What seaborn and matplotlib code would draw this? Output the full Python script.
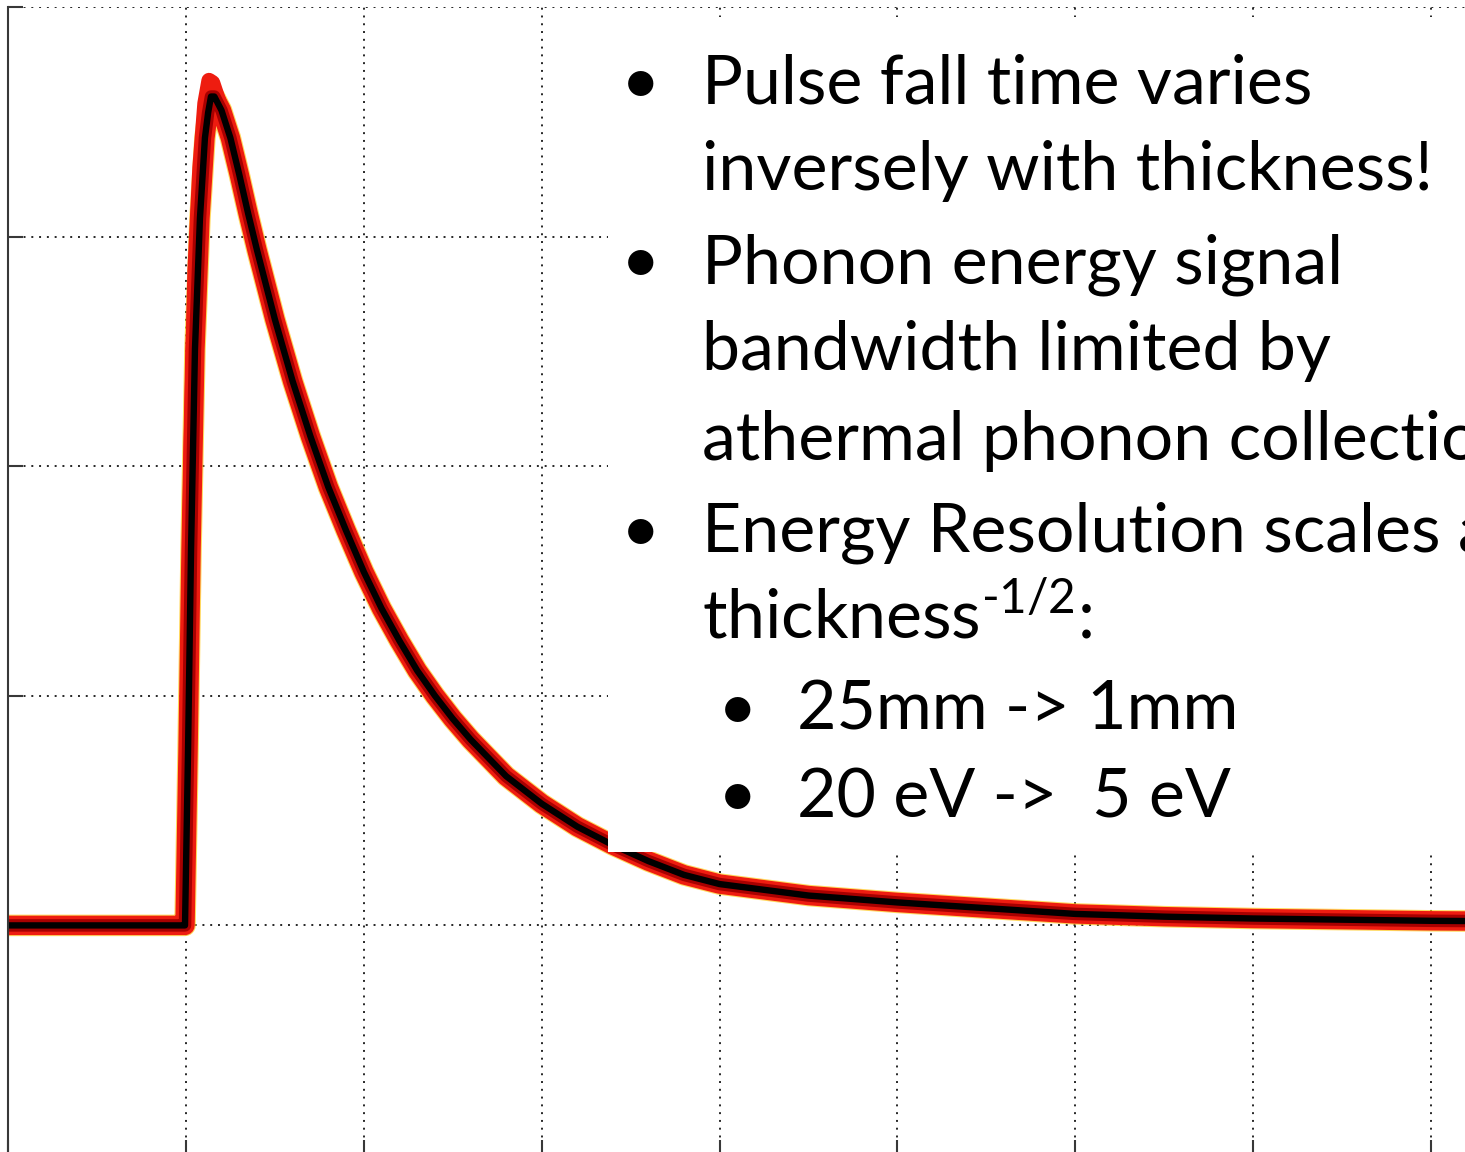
import matplotlib
matplotlib.use("Agg")
import matplotlib.pyplot as plt
import pandas as pd
import seaborn as sns
from matplotlib.patches import Rectangle

# Averaged phonon pulse (time and amplitude in grid units)
time_us = [0.0, 0.5, 0.98, 0.995, 1.012, 1.029, 1.051, 1.079, 1.107, 1.125, 1.141,
           1.16, 1.18, 1.2, 1.25, 1.3, 1.35, 1.4, 1.45, 1.5, 1.6, 1.7, 1.8, 1.9,
           2.0, 2.1, 2.2, 2.3, 2.4, 2.5, 2.6, 2.7, 2.8, 2.9, 3.0, 3.2, 3.4, 3.6,
           3.8, 4.0, 4.25, 4.5, 4.75, 5.0, 5.5, 6.0, 6.5, 7.0, 8.0, 9.0]
mean_pulse = [0.0, 0.0, 0.0, 0.0, 0.76, 1.64, 2.51, 3.08, 3.43, 3.54, 3.61,
              3.61, 3.58, 3.55, 3.43, 3.27, 3.10, 2.94, 2.79, 2.64, 2.37, 2.13, 1.91, 1.72,
              1.54, 1.38, 1.24, 1.11, 1.00, 0.90, 0.81, 0.73, 0.65, 0.59, 0.53, 0.43, 0.35, 0.28,
              0.22, 0.18, 0.155, 0.13, 0.115, 0.10, 0.075, 0.05, 0.038, 0.03, 0.02, 0.015]
# Individual traces that overshoot around the peak
fast_time = [1.0, 1.012, 1.029, 1.051, 1.079, 1.107, 1.13, 1.15, 1.18, 1.22,
             1.27, 1.32, 1.4]
fast_pulse = [0.1, 1.10, 2.05, 2.85, 3.30, 3.58, 3.68, 3.67, 3.60, 3.50,
              3.35, 3.20, 2.95]

bullet_lines = [
    (0, "Pulse fall time varies", True),
    (0, "inversely with thickness!", False),
    (0, "Phonon energy signal", True),
    (0, "bandwidth limited by", False),
    (0, "athermal phonon collection", False),
    (0, "Energy Resolution scales as", True),
    (0, r"thickness$^{\text{-1/2}}$:", False),
    (1, "25mm -> 1mm", True),
    (1, "20 eV ->  5 eV", True),
]
line_baselines_px = [104, 190, 283, 370, 460, 552, 639, 730, 817]

W, H = 1465, 1152
sns.set_style("white")
plt.rcParams["font.family"] = ["Lato", "DejaVu Sans"]
plt.rcParams["mathtext.fontset"] = "custom"
plt.rcParams["mathtext.rm"] = "Lato"

fig = plt.figure(figsize=(W / 100, H / 100), dpi=100)
ax_left, ax_top, ax_bottom, ax_right = 8, 7, 1155, 8 + 9 * 177.9
ax = fig.add_axes([ax_left / W, (H - ax_bottom) / H,
                   (ax_right - ax_left) / W, (ax_bottom - ax_top) / H])

df = pd.DataFrame({"t": time_us, "mean": mean_pulse})
df_fast = pd.DataFrame({"t": fast_time, "fast": fast_pulse})

# Band of individual traces underneath the mean
sns.lineplot(data=df, x="t", y="mean", color="#ffc81a", linewidth=15.5, alpha=0.7,
             sort=False, ax=ax, solid_capstyle="butt")
sns.lineplot(data=df_fast, x="t", y="fast", color="#ee1c10", linewidth=11, sort=False,
             ax=ax, solid_capstyle="butt")
sns.lineplot(data=df, x="t", y="mean", color="#ee1c10", linewidth=14, sort=False,
             ax=ax, solid_capstyle="butt")
sns.lineplot(data=df, x="t", y="mean", color="#a80000", linewidth=9, sort=False,
             ax=ax, solid_capstyle="butt")
sns.lineplot(data=df, x="t", y="mean", color="black", linewidth=4.6, sort=False,
             ax=ax, solid_capstyle="butt")

ax.set_xlim(0, 9)
ax.set_ylim(-1, 4)
ax.set_xticks(range(0, 10))
ax.set_yticks(range(-1, 5))
ax.set_xlabel("")
ax.set_ylabel("")
ax.grid(True, color="#262626", linestyle=(0, (1, 3)), linewidth=1.4)
ax.set_axisbelow(True)
for side in ("top", "right"):
    ax.spines[side].set_visible(False)
for side in ("left", "bottom"):
    ax.spines[side].set_color("#383838")
    ax.spines[side].set_linewidth(1.5)
ax.tick_params(direction="in", length=11, width=1.5, color="#383838",
               left=True, bottom=True, labelleft=False, labelbottom=False)

# White text panel laid over the plot
panel = Rectangle((608 / W, (H - 852) / H), 1 - 608 / W, (852 - 17) / H,
                  transform=fig.transFigure, facecolor="white", edgecolor="none",
                  zorder=10, clip_on=False)
ax.add_patch(panel)

bullet_x = {0: 641, 1: 738}
text_x = {0: 702, 1: 797}
fs = 49
for (level, text, has_bullet), base in zip(bullet_lines, line_baselines_px):
    y = (H - base) / H
    if has_bullet:
        fig.text(bullet_x[level] / W, y, "\u2022", fontsize=fs, ha="center",
                 va="baseline", color="black", zorder=20)
    fig.text(text_x[level] / W, y, text, fontsize=fs, ha="left",
             va="baseline", color="black", zorder=20)

fig.savefig("out.png", dpi=100)
